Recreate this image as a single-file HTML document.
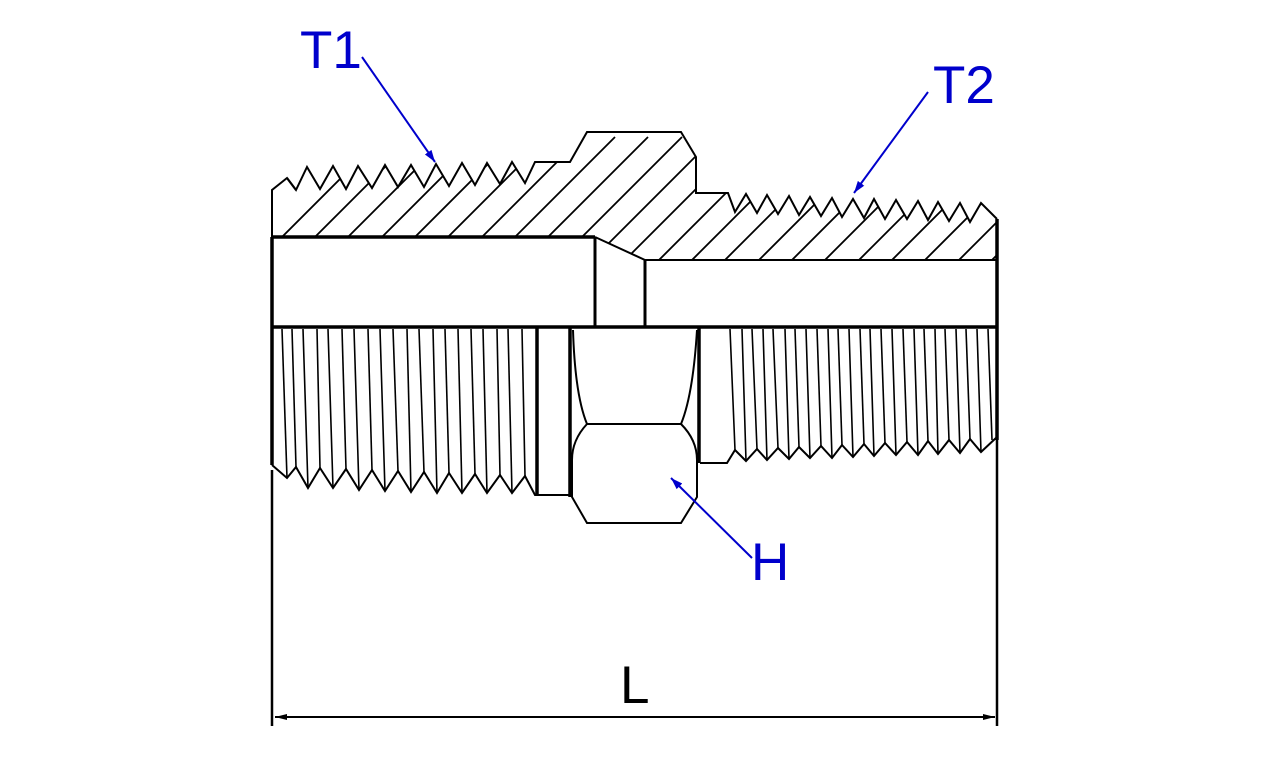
<!DOCTYPE html>
<html><head><meta charset="utf-8"><style>
html,body{margin:0;padding:0;background:#fff;}
svg{display:block;}
text{font-family:"Liberation Sans",sans-serif;}
</style></head><body>
<svg width="1280" height="760" viewBox="0 0 1280 760" xmlns="http://www.w3.org/2000/svg">
<defs>
<clipPath id="sec"><polygon points="272,237 272,190 287,178 296,190 307,167 320,189 333,166 346,189 358,166 372,188 385,165 398,187 411,165 424,187 436,164 449,186 462,163 475,185 487,163 500,184 512,162 525,183 535,162 570,162 587,132 681,132 696,157 696,193 728,193 735,212 746,194 757,213 767,195 778,214 789,196 799,215 810,197 821,216 832,198 842,217 853,199 864,218 874,199 885,219 896,200 907,219 918,201 928,220 938,202 949,221 960,203 970,222 981,203 997,219 997,260 645,260 595,237"/></clipPath>
<marker id="ab" markerWidth="12" markerHeight="8" refX="12" refY="4" orient="auto" markerUnits="userSpaceOnUse"><path d="M0,0 L12,4 L0,8 z" fill="#0000cc"/></marker>
<marker id="ak" markerWidth="12" markerHeight="6" refX="12" refY="3" orient="auto" markerUnits="userSpaceOnUse"><path d="M0,0 L12,3 L0,6 z" fill="#000"/></marker>
</defs>
<g clip-path="url(#sec)" stroke="#000" stroke-width="1.8">
<g id="h">
<line x1="82" y1="437" x2="382" y2="137"/><line x1="115" y1="437" x2="415" y2="137"/><line x1="148" y1="437" x2="448" y2="137"/><line x1="182" y1="437" x2="482" y2="137"/><line x1="215" y1="437" x2="515" y2="137"/><line x1="248" y1="437" x2="548" y2="137"/><line x1="282" y1="437" x2="582" y2="137"/><line x1="315" y1="437" x2="615" y2="137"/><line x1="348" y1="437" x2="648" y2="137"/><line x1="382" y1="437" x2="682" y2="137"/><line x1="415" y1="437" x2="715" y2="137"/><line x1="448" y1="437" x2="748" y2="137"/><line x1="482" y1="437" x2="782" y2="137"/><line x1="515" y1="437" x2="815" y2="137"/><line x1="548" y1="437" x2="848" y2="137"/><line x1="582" y1="437" x2="882" y2="137"/><line x1="615" y1="437" x2="915" y2="137"/><line x1="648" y1="437" x2="948" y2="137"/><line x1="682" y1="437" x2="982" y2="137"/><line x1="715" y1="437" x2="1015" y2="137"/><line x1="748" y1="437" x2="1048" y2="137"/><line x1="782" y1="437" x2="1082" y2="137"/><line x1="815" y1="437" x2="1115" y2="137"/><line x1="848" y1="437" x2="1148" y2="137"/><line x1="882" y1="437" x2="1182" y2="137"/><line x1="915" y1="437" x2="1215" y2="137"/>
</g>
</g>
<g fill="none" stroke="#000" stroke-width="2" stroke-linejoin="miter">
<polyline points="272,237 272,190 287,178 296,190 307,167 320,189 333,166 346,189 358,166 372,188 385,165 398,187 411,165 424,187 436,164 449,186 462,163 475,185 487,163 500,184 512,162 525,183 535,162 570,162 587,132 681,132 696,157 696,193 728,193 735,212 746,194 757,213 767,195 778,214 789,196 799,215 810,197 821,216 832,198 842,217 853,199 864,218 874,199 885,219 896,200 907,219 918,201 928,220 938,202 949,221 960,203 970,222 981,203 997,219"/>
<polyline points="296,190 287,178" />
<polyline points="595,237 645,260 997,260"/>
<line x1="595" y1="237" x2="595" y2="327" stroke-width="3"/>
<line x1="645" y1="260" x2="645" y2="327" stroke-width="3"/>
<!-- bottom left thread -->
<polyline points="272,465 287,478 296,467 308,488 320,468 333,488 346,469 359,490 372,470 385,491 398,471 411,492 424,472 437,493 449,473 462,493 475,474 487,493 500,475 512,493 525,476 535,495 570,495"/>
<g stroke-width="1.6">
<line x1="287" y1="478" x2="282" y2="329"/><line x1="296" y1="467" x2="292" y2="329"/><line x1="308" y1="488" x2="303" y2="329"/><line x1="320" y1="468" x2="317" y2="329"/><line x1="333" y1="488" x2="328" y2="329"/><line x1="346" y1="469" x2="342" y2="329"/><line x1="359" y1="490" x2="354" y2="329"/><line x1="372" y1="470" x2="368" y2="329"/><line x1="385" y1="491" x2="380" y2="329"/><line x1="398" y1="471" x2="393" y2="329"/><line x1="411" y1="492" x2="407" y2="329"/><line x1="424" y1="472" x2="419" y2="329"/><line x1="437" y1="493" x2="433" y2="329"/><line x1="449" y1="473" x2="445" y2="329"/><line x1="462" y1="493" x2="458" y2="329"/><line x1="475" y1="474" x2="471" y2="329"/><line x1="487" y1="493" x2="483" y2="329"/><line x1="500" y1="475" x2="497" y2="329"/><line x1="512" y1="493" x2="508" y2="329"/><line x1="525" y1="476" x2="522" y2="329"/>
</g>
<!-- bottom right thread -->
<polyline points="700,463 727,463 735,450 746,461 757,449 767,460 778,448 789,459 799,447 810,458 821,446 832,458 842,445 853,457 864,444 874,456 885,443 896,455 907,442 918,455 928,441 938,454 949,440 960,453 970,439 981,452 997,437"/>
<g stroke-width="1.6">
<line x1="735" y1="450" x2="730" y2="329"/><line x1="746" y1="461" x2="742" y2="329"/><line x1="757" y1="449" x2="752" y2="329"/><line x1="767" y1="460" x2="763" y2="329"/><line x1="778" y1="448" x2="773" y2="329"/><line x1="789" y1="459" x2="785" y2="329"/><line x1="799" y1="447" x2="795" y2="329"/><line x1="810" y1="458" x2="806" y2="329"/><line x1="821" y1="446" x2="817" y2="329"/><line x1="832" y1="458" x2="828" y2="329"/><line x1="842" y1="445" x2="838" y2="329"/><line x1="853" y1="457" x2="849" y2="329"/><line x1="864" y1="444" x2="860" y2="329"/><line x1="874" y1="456" x2="870" y2="329"/><line x1="885" y1="443" x2="881" y2="329"/><line x1="896" y1="455" x2="892" y2="329"/><line x1="907" y1="442" x2="903" y2="329"/><line x1="918" y1="455" x2="914" y2="329"/><line x1="928" y1="441" x2="924" y2="329"/><line x1="938" y1="454" x2="935" y2="329"/><line x1="949" y1="440" x2="945" y2="329"/><line x1="960" y1="453" x2="956" y2="329"/><line x1="970" y1="439" x2="966" y2="329"/><line x1="981" y1="452" x2="977" y2="329"/><line x1="992" y1="440" x2="988" y2="329"/>
</g>
<!-- hex -->
<path d="M573,330 Q575,395 587,424 L681,424 Q693,395 697,330"/>
<path d="M587,424 Q572,440 572,460 L572,497 L587,523 L681,523 L697,497 L697,460 Q697,440 681,424"/>
</g>
<g stroke="#000" stroke-width="3.5" fill="none">
<line x1="272" y1="327" x2="998" y2="327"/>
<line x1="272" y1="237" x2="595" y2="237"/>
<line x1="272" y1="237" x2="272" y2="465"/>
<line x1="997" y1="219" x2="997" y2="440"/>
<line x1="537" y1="327" x2="537" y2="495"/>
<line x1="570" y1="327" x2="570" y2="497"/>
<line x1="699" y1="327" x2="699" y2="463"/>
<line x1="272" y1="470" x2="272" y2="726" stroke-width="2.5"/>
<line x1="997" y1="440" x2="997" y2="726" stroke-width="2.5"/>
</g>
<line x1="275" y1="717" x2="995" y2="717" stroke="#000" stroke-width="2" marker-end="url(#ak)"/>
<line x1="994" y1="717" x2="275" y2="717" stroke="#000" stroke-width="2" marker-end="url(#ak)"/>
<text x="620" y="703" font-size="53" fill="#000">L</text>
<g stroke="#0000cc" stroke-width="2" fill="none">
<line x1="362" y1="57" x2="435" y2="162" marker-end="url(#ab)"/>
<line x1="928" y1="92" x2="854" y2="193" marker-end="url(#ab)"/>
<line x1="752" y1="558" x2="671" y2="478" marker-end="url(#ab)"/>
</g>
<g fill="#0000cc" font-size="53">
<text x="300" y="68">T1</text>
<text x="933" y="103">T2</text>
<text x="751" y="580">H</text>
</g>
</svg>
</body></html>
